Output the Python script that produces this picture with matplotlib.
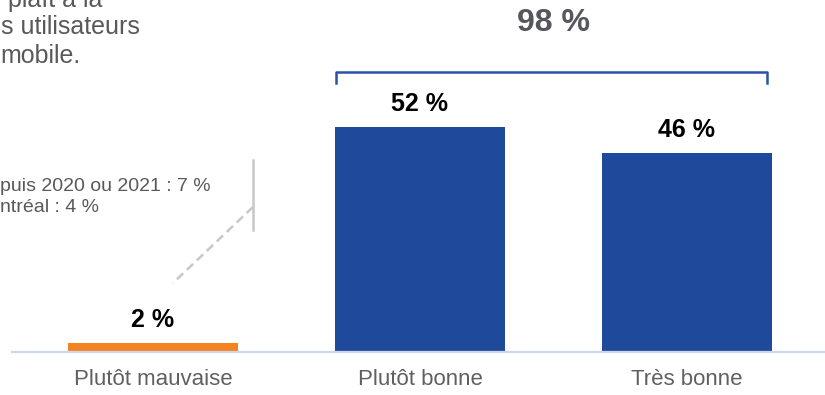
import matplotlib.pyplot as plt
import numpy as np
from matplotlib.lines import Line2D

categories = ["Plutôt mauvaise", "Plutôt bonne", "Très bonne"]
values = [2, 52, 46]
bar_colors = ["#f58220", "#1f4a9c", "#1f4a9c"]
total_label = "98 %"
title_lines = ["plaît à la", "s utilisateurs", "mobile."]
note_lines = ["puis 2020 ou 2021 : 7 %", "ntréal : 4 %"]

plt.rcParams["font.family"] = ["Liberation Sans", "DejaVu Sans"]

W, H = 825, 395
GREY = "#595959"

fig = plt.figure(figsize=(W / 100, H / 100), dpi=100)
ax = fig.add_axes([12 / W, 43 / H, 813 / W, 352 / H])

x = np.arange(len(categories))
bar_width = 0.64
ax.bar(x, values, width=bar_width, color=bar_colors, zorder=2)
ax.set_xlim(-0.528, 2.517)
ax.set_ylim(0, 81.3)

for xi, v in zip(x, values):
    ax.annotate(
        f"{v} %",
        (xi, v),
        xytext=(0, 16.5),
        textcoords="offset points",
        ha="center",
        va="center",
        fontsize=18,
        fontweight="bold",
        color="black",
    )

ax.set_xticks(x, categories)
ax.tick_params(axis="x", length=0, pad=12, labelsize=16, labelcolor="#606060")
ax.set_yticks([])
for side in ("left", "right", "top"):
    ax.spines[side].set_visible(False)
ax.spines["bottom"].set_color("#cdd7ea")
ax.spines["bottom"].set_linewidth(1.6)
ax.set_facecolor("none")

# bracket over the two positive bars
left = x[1] - bar_width / 2 + 0.004
right = x[2] + bar_width / 2 - 0.02
ax.plot([left, left, right, right], [62.2, 64.7, 64.7, 62.2],
        color="#2a52a3", linewidth=1.8, clip_on=False, zorder=3)
ax.text((x[1] + x[2]) / 2, 76.0, total_label, ha="center", va="center",
        fontsize=23, fontweight="bold", color="#55575c")

# cut-off text on the left, as in the source slide
title_x = [8, 1, 0]
title_base = [7, 34, 63]
for tx, ty, line in zip(title_x, title_base, title_lines):
    fig.text(tx / W, 1 - ty / H, line, ha="left", va="baseline",
             fontsize=18, color=GREY)

for ty, line in zip([191, 212], note_lines):
    fig.text(0, 1 - ty / H, line, ha="left", va="baseline",
             fontsize=14, color=GREY)

# grey connector
fig.add_artist(Line2D([253 / W, 253 / W], [1 - 160 / H, 1 - 230 / H],
                      color="#c8c8c8", linewidth=1.8, transform=fig.transFigure))
fig.add_artist(Line2D([253 / W, 173 / W], [1 - 207 / H, 1 - 283 / H],
                      color="#c8c8c8", linewidth=1.8, linestyle=(0, (3.5, 2)),
                      transform=fig.transFigure))

fig.savefig("out.png", dpi=100)
